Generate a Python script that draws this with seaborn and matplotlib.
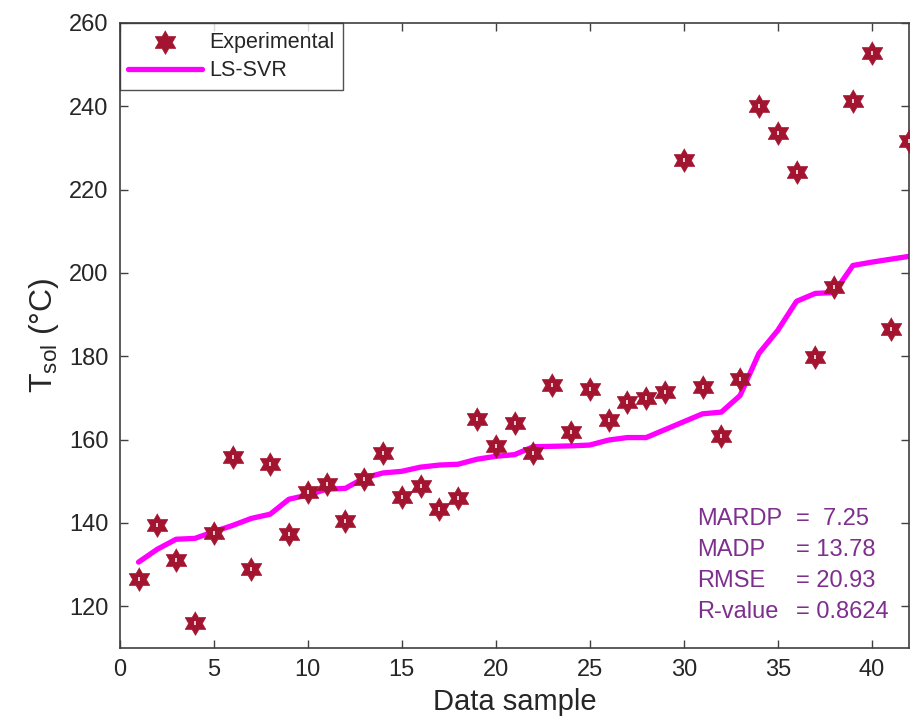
import numpy as np
import pandas as pd
import matplotlib
matplotlib.use("Agg")
import matplotlib.pyplot as plt
import seaborn as sns

# data
sample = list(range(1, 43))
experimental = [126.5, 139.4, 131.0, 116.1, 137.5, 155.8, 128.9, 154.1, 137.3, 147.4,
                149.3, 140.4, 150.5, 156.7, 146.2, 148.9, 143.4, 146.0, 164.9, 158.4,
                164.0, 156.7, 173.1, 161.8, 172.1, 164.7, 169.0, 170.0, 171.4, 227.1,
                172.6, 160.8, 174.6, 240.1, 233.6, 224.2, 179.9, 196.6, 241.3, 252.8,
                186.5, 231.7]
lssvr = [130.6, 133.7, 136.1, 136.3, 137.9, 139.4, 141.1, 142.1, 145.7, 146.7,
         148.1, 148.3, 150.8, 152.0, 152.4, 153.4, 153.9, 154.1, 155.3, 156.0,
         156.4, 158.3, 158.4, 158.5, 158.7, 159.9, 160.5, 160.5, 162.4, 164.3,
         166.2, 166.6, 170.6, 180.7, 186.2, 193.2, 195.1, 195.3, 201.8, 202.6,
         203.3, 204.0]
x_ticks = [0, 5, 10, 15, 20, 25, 30, 35, 40]
y_ticks = [120, 140, 160, 180, 200, 220, 240, 260]
stats_names = ["MARDP", "MADP", "RMSE", "R-value"]
stats_values = ["=  7.25", "= 13.78", "= 20.93", "= 0.8624"]

df = pd.DataFrame({"sample": sample, "exp": experimental, "pred": lssvr})

sns.set_style("ticks")
plt.rcParams["font.family"] = ["Liberation Sans", "DejaVu Sans"]
plt.rcParams["mathtext.fontset"] = "custom"
plt.rcParams["mathtext.rm"] = "Liberation Sans"
plt.rcParams["mathtext.it"] = "Liberation Sans"

# six pointed star (hexagram) marker
ang = np.deg2rad(np.arange(12) * 30 + 90)
rad = np.where(np.arange(12) % 2 == 0, 1.0, 1 / np.sqrt(3))
hexagram = list(zip(rad * np.cos(ang), rad * np.sin(ang)))

fig = plt.figure(figsize=(9.16, 7.27), dpi=100)
ax = fig.add_axes([0.1307, 0.1087, 0.862, 0.8597])

sns.scatterplot(data=df, x="sample", y="exp", marker=hexagram, s=290,
                color="#A2142F", edgecolor="#A2142F", linewidth=0.5,
                label="Experimental", ax=ax, zorder=3)
# little white speck in the middle of each star, as in the original render
sns.scatterplot(data=df, x="sample", y="exp", marker="|", s=10, color="white",
                linewidth=1.1, legend=False, ax=ax, zorder=4)
sns.lineplot(data=df, x="sample", y="pred", color="#FF00FF", linewidth=3.8,
             label="LS-SVR", ax=ax, zorder=2)

ax.set_xlim(0, 42)
ax.set_ylim(110, 260)
ax.set_xticks(x_ticks)
ax.set_yticks(y_ticks)
ax.tick_params(direction="in", top=True, right=True, length=6, width=1,
               color="#404040", labelsize=17, labelcolor="#262626", pad=8)
for sp in ax.spines.values():
    sp.set_color("#404040")
    sp.set_linewidth(1.2)

ax.set_xlabel("Data sample", fontsize=21, color="#262626", labelpad=5)
ax.set_ylabel(r"T$_{\mathrm{sol}}$ (°C)", fontsize=23, color="#262626", labelpad=6)

leg = ax.legend(loc="upper left", fontsize=15.5, frameon=True, fancybox=False,
                borderaxespad=0, handlelength=3.4, borderpad=0.4,
                labelspacing=0.35, handletextpad=0.35)
leg.get_frame().set_edgecolor("#262626")
leg.get_frame().set_linewidth(1.0)

y0 = 0.206
for i, (n, v) in enumerate(zip(stats_names, stats_values)):
    ax.text(0.731, y0 - i * 0.0496, n, transform=ax.transAxes, fontsize=17,
            color="#7E2F8E", va="center", ha="left")
    ax.text(0.856, y0 - i * 0.0496, v, transform=ax.transAxes, fontsize=17,
            color="#7E2F8E", va="center", ha="left")

fig.savefig("out.png", dpi=100)
